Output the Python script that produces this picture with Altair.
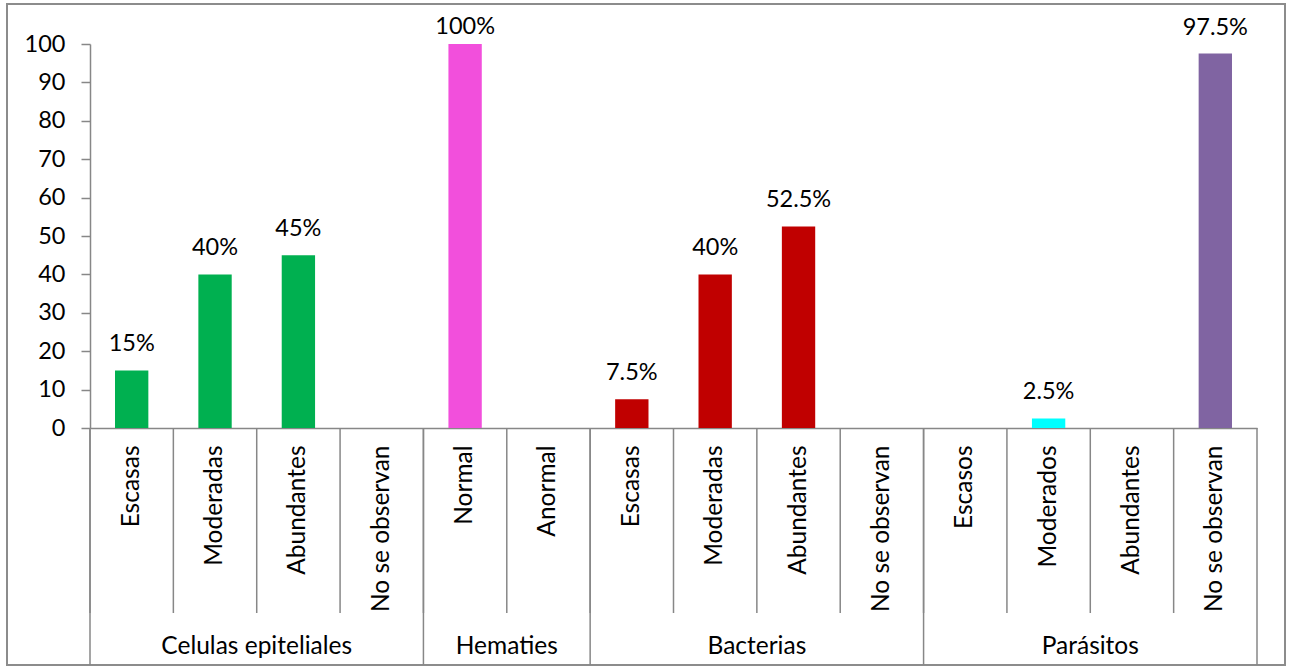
import altair as alt
import pandas as pd

# ---- data ----
groups = ["Celulas epiteliales", "Hematies", "Bacterias", "Parásitos"]
group_sizes = [4, 2, 4, 4]
subcats = ["Escasas", "Moderadas", "Abundantes", "No se observan",
           "Normal", "Anormal",
           "Escasas", "Moderadas", "Abundantes", "No se observan",
           "Escasos", "Moderados", "Abundantes", "No se observan"]
values = [15, 40, 45, None,
          100, None,
          7.5, 40, 52.5, None,
          None, 2.5, None, 97.5]
bar_colors = ["#00B050", "#00B050", "#00B050", "#00B050",
              "#F24FDC", "#F24FDC",
              "#C00000", "#C00000", "#C00000", "#C00000",
              "#00FFFF", "#00FFFF", "#00FFFF", "#8064A2"]
y_ticks = [0, 10, 20, 30, 40, 50, 60, 70, 80, 90, 100]

# ---- build tables ----
group_of = []
for g, n in zip(groups, group_sizes):
    group_of += [g] * n
keys = [f"{g}|{s}" for g, s in zip(group_of, subcats)]

df = pd.DataFrame({"key": keys, "group": group_of, "sub": subcats, "value": values})
bars_df = df.dropna(subset=["value"])

starts = []
s = 0
for n in group_sizes:
    starts.append(s)
    s += n
group_start_df = pd.DataFrame({"key": [keys[i] for i in starts]})
end_df = pd.DataFrame({"key": [keys[-1]]})
inner_df = pd.DataFrame({"key": keys})
group_label_df = pd.DataFrame({
    "key": [keys[st + n // 2 - 1] for st, n in zip(starts, group_sizes)],
    "group": groups,
})

W, H = 1167, 384
FONT = "Lato"
GRAY = "#878787"
FS_WORD = 24.5
FS_NUM = 23.5

xscale = alt.Scale(domain=keys, paddingInner=0, paddingOuter=0)
yscale = alt.Scale(domain=[0, 100], nice=False)
color_scale = alt.Scale(domain=keys, range=bar_colors)

xaxis = alt.Axis(
    title=None, ticks=False, domain=True, domainColor=GRAY, domainWidth=1.5,
    labelExpr="split(datum.label, '|')[1]", labelAngle=270, labelAlign="right",
    labelBaseline="middle", labelPadding=17, labelFont=FONT, labelFontSize=FS_WORD,
    labelColor="black", labelOverlap=False, labelLimit=400,
)
yaxis = alt.Axis(
    title=None, values=y_ticks, grid=False, tickSize=9, tickColor=GRAY,
    tickWidth=1.5, domainColor=GRAY, domainWidth=1.5, labelPadding=16, labelFont=FONT,
    labelFontSize=FS_NUM, labelColor="black", labelOverlap=False,
)


def X(**kw):
    return alt.X("key:N", scale=xscale, sort=keys, axis=xaxis, **kw)


def Y():
    return alt.Y("value:Q", scale=yscale, axis=yaxis)


bars = alt.Chart(bars_df).mark_bar(width={"band": 0.4}).encode(
    x=X(),
    y=Y(),
    color=alt.Color("key:N", scale=color_scale, legend=None),
)

# labels that would run into the chart's top edge are nudged down (as Excel does)
labels = alt.Chart(bars_df).transform_calculate(
    lbl="format(datum.value, '~g') + '%'"
).mark_text(
    baseline="alphabetic", font=FONT, fontSize=FS_NUM, color="black",
    dy=alt.expr("datum.value >= 99 ? -10 : -19"),
).encode(
    x=X(),
    y=Y(),
    text="lbl:N",
)

inner_rules = alt.Chart(inner_df).mark_rule(color=GRAY, strokeWidth=1.5).encode(
    x=X(bandPosition=0),
    y=alt.value(H), y2=alt.value(H + 185),
)
inner_end = alt.Chart(end_df).mark_rule(color=GRAY, strokeWidth=1.5).encode(
    x=X(bandPosition=1),
    y=alt.value(H), y2=alt.value(H + 237),
)
group_rules = alt.Chart(group_start_df).mark_rule(color=GRAY, strokeWidth=1.5).encode(
    x=X(bandPosition=0),
    y=alt.value(H), y2=alt.value(H + 237),
)
group_labels = alt.Chart(group_label_df).mark_text(
    baseline="middle", font=FONT, fontSize=FS_WORD, color="black"
).encode(
    x=X(bandPosition=1),
    y=alt.value(H + 219),
    text="group:N",
)

border = alt.Chart(pd.DataFrame({"k": [0]})).mark_rect(
    fill=None, stroke="#8C8C8C", strokeWidth=2
).encode(
    x=alt.value(-83), x2=alt.value(1195), y=alt.value(-40), y2=alt.value(621),
)

chart = alt.layer(
    border, inner_rules, inner_end, group_rules, bars, labels, group_labels
).properties(
    width=W, height=H,
    autosize=alt.AutoSizeParams(type="none"),
    padding={"left": 90, "top": 44, "right": 36, "bottom": 239},
    background="white",
).configure_view(stroke=None)

chart.save("out.html", embed_options={"renderer": "svg", "actions": False})
